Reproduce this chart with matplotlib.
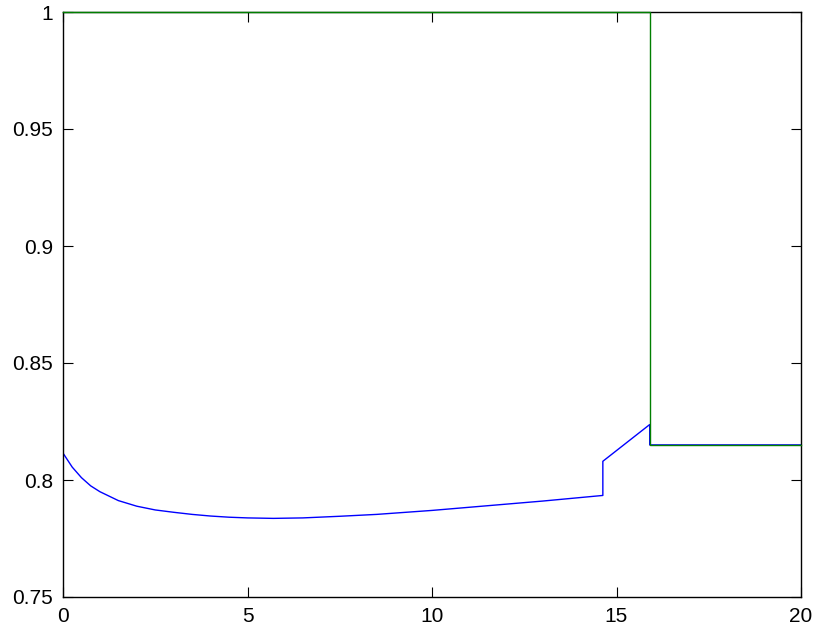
import matplotlib
matplotlib.use("Agg")
import matplotlib.pyplot as plt

# blue series
blue_x = [0, 0.25, 0.5, 0.75, 1.0, 1.5, 2.0, 2.5, 3.0, 3.5, 4.0, 4.5, 5.0, 5.7,
          6.5, 7.5, 8.5, 10.0, 11.5, 13.0, 14.63, 14.63, 15.9, 15.9, 20.0]
blue_y = [0.8115, 0.8055, 0.8010, 0.7975, 0.7950, 0.7912, 0.7888, 0.7872, 0.7862,
          0.7853, 0.7846, 0.7841, 0.7838, 0.7836, 0.7838, 0.7845, 0.7853, 0.7870,
          0.7890, 0.7910, 0.7934, 0.8080, 0.8237, 0.8150, 0.8150]

# green series
green_x = [0, 15.9, 15.9, 20.0]
green_y = [1.0, 1.0, 0.8150, 0.8150]

xticks = [0, 5, 10, 15, 20]
yticks = [0.75, 0.8, 0.85, 0.9, 0.95, 1.0]
yticklabels = ["0.75", "0.8", "0.85", "0.9", "0.95", "1"]

plt.rcParams['font.family'] = ['Liberation Sans', 'DejaVu Sans']

fig = plt.figure(figsize=(8.15, 6.28), dpi=100)
ax = fig.add_axes([63 / 815, 31 / 628, 738 / 815, 585 / 628])

ax.plot(blue_x, blue_y, color='#0000ff', linewidth=1.0)
ax.plot(green_x, green_y, color='#007f00', linewidth=1.0, zorder=5, clip_on=False)

ax.set_xlim(0, 20)
ax.set_ylim(0.75, 1.0)
ax.set_xticks(xticks)
ax.set_xticklabels([str(t) for t in xticks])
ax.set_yticks(yticks)
ax.set_yticklabels(yticklabels)
ax.tick_params(direction='in', length=7, width=0.8, labelsize=15,
               top=True, right=True, pad=7)
for s in ax.spines.values():
    s.set_linewidth(1.0)

fig.savefig("out.png", dpi=100)
